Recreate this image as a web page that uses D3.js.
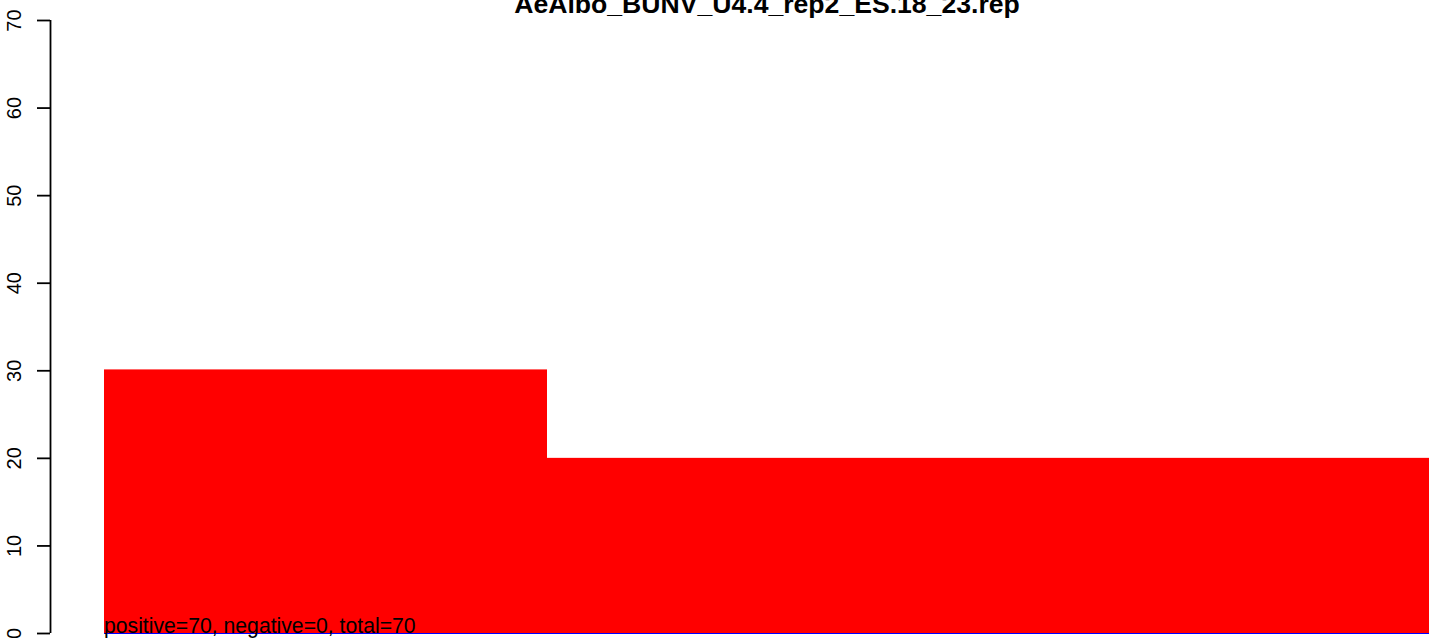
<!DOCTYPE html>
<html>
<head>
<meta charset="utf-8">
<script src="https://cdn.jsdelivr.net/npm/d3@7"></script>
<style>
  html, body { margin: 0; padding: 0; background: #fff; }
  svg { display: block; }
  text { font-family: "Liberation Sans", Arial, Helvetica, sans-serif; }
</style>
</head>
<body>
<svg id="chart" width="1429" height="638"></svg>
<script>
// Bin edges along the x axis and the count drawn for each bin
const binStart = [0, 1];
const binEnd = [1, 3];
const positiveValues = [30.1, 20];
const negativeValues = [0, 0];
const yTicks = [0, 10, 20, 30, 40, 50, 60, 70];
const chartTitle = "AeAlbo_BUNV_U4.4_rep2_ES.18_23.rep";
const summaryLabel = "positive=70, negative=0, total=70";

const svg = d3.select("#chart");

const x = d3.scaleLinear().domain([0, 3]).range([104, 1433]);
const y = d3.scaleLinear().domain([0, 70]).range([633, 20]);

// Positive counts as red steps
svg.append("g")
  .selectAll("rect")
  .data(positiveValues)
  .join("rect")
  .attr("x", (d, i) => x(binStart[i]))
  .attr("width", (d, i) => x(binEnd[i]) - x(binStart[i]))
  .attr("y", d => y(d))
  .attr("height", d => y(0) - y(d))
  .attr("fill", "#ff0000");

// Negative counts hang below zero in blue
svg.append("g")
  .selectAll("rect")
  .data(negativeValues)
  .join("rect")
  .attr("x", (d, i) => x(binStart[i]))
  .attr("width", (d, i) => x(binEnd[i]) - x(binStart[i]))
  .attr("y", y(0))
  .attr("height", d => Math.max(1, y(-d) - y(0)))
  .attr("fill", "#0000ff");

// Y axis, labels parallel to the axis
const yAxis = d3.axisLeft(y).tickValues(yTicks).tickSize(13).tickFormat(d3.format("d"));
const gy = svg.append("g").attr("transform", "translate(50,0)").call(yAxis);
gy.select(".domain").attr("stroke", "#000").attr("stroke-width", 1.8)
  .attr("d", `M0.5,${y(70)}V${y(0)}`);
gy.selectAll(".tick line").attr("stroke", "#000").attr("stroke-width", 1.8);
gy.selectAll(".tick text")
  .attr("x", null).attr("dy", null)
  .attr("text-anchor", "middle")
  .attr("transform", "translate(-29,0) rotate(-90)")
  .attr("font-size", 20)
  .attr("fill", "#000")
  .style("font-family", "\"Liberation Sans\", Arial, sans-serif");

// Title
svg.append("text")
  .attr("x", 767)
  .attr("y", 13)
  .attr("text-anchor", "middle")
  .attr("font-size", 26.6)
  .attr("font-weight", "bold")
  .text(chartTitle);

// Summary counts
svg.append("text")
  .attr("x", x(binStart[0]))
  .attr("y", 633)
  .attr("font-size", 21.2)
  .text(summaryLabel);
</script>
</body>
</html>
